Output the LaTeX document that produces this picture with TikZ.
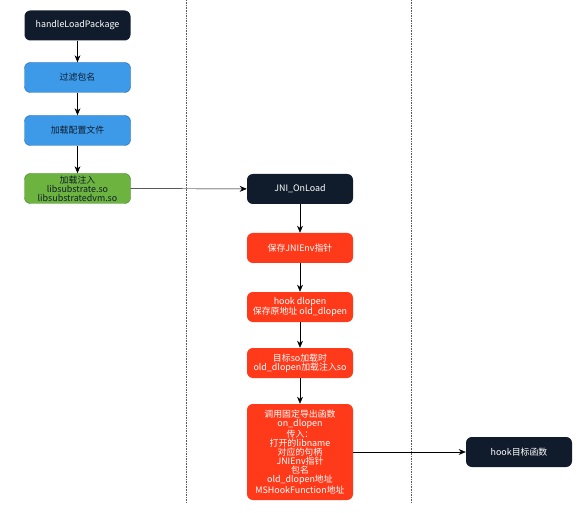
\documentclass[tikz,border=0pt]{standalone}
\usepackage{fontspec}
\setmainfont{Noto Sans CJK SC}
\usepackage{tikz}
\usetikzlibrary{positioning, arrows.meta}

\definecolor{navy}{HTML}{101C2C}
\definecolor{skyblue}{HTML}{3D9AE8}
\definecolor{skyedge}{HTML}{2A6CB0}
\definecolor{leaf}{HTML}{6CB43F}
\definecolor{leafedge}{HTML}{4A8A2A}
\definecolor{flame}{HTML}{FF3A1A}

\tikzset{
  box/.style={rounded corners=5pt, minimum width=106*0.03cm, minimum height=30*0.03cm,
    align=center, text=white, inner sep=1pt, font=\fontsize{7.6}{7.8}\selectfont},
  darkbox/.style={box, fill=navy},
  bluebox/.style={box, fill=skyblue, draw=skyedge, text=navy},
  greenbox/.style={box, fill=leaf, draw=leafedge, text=navy},
  redbox/.style={box, fill=flame},
  flow/.style={-{Stealth[length=6pt,width=5pt]}, thin}
}

\begin{document}
\begin{tikzpicture}[x=0.03cm, y=-0.03cm]
    \useasboundingbox (0,0) rectangle (588,513);

    % Draw lane separators
    \foreach \x in {186, 411} {
      \draw[densely dotted, gray!70!black] (\x,0) -- (\x,502);
    }

    % Left lane
    \node[darkbox] (handle) at (77.5,25.5) {handleLoadPackage};
    \node[bluebox] (filter) at (77.5,77.5) {过滤包名};
    \node[bluebox] (config) at (77.5,130.5) {加载配置文件};
    \node[greenbox] (inject) at (77.5,188.5) {加载注入\\libsubstrate.so\\libsubstratedvm.so};

    % Middle lane
    \node[darkbox] (jni) at (300,189) {JNI\_OnLoad};
    \node[redbox] (env) at (300,248) {保存JNIEnv指针};
    \node[redbox] (hookdl) at (300,307) {hook dlopen\\保存原地址 old\_dlopen};
    \node[redbox] (target) at (300,363) {目标so加载时\\old\_dlopen加载注入so};
    \node[redbox, minimum height=96*0.03cm] (call) at (300,452)
      {调用固定导出函数\\on\_dlopen\\传入：\\打开的libname\\对应的句柄\\JNIEnv指针\\包名\\old\_dlopen地址\\MSHookFunction地址};

    % Right lane
    \node[darkbox] (hookfn) at (519,452) {hook目标函数};

    % Draw connectors
    \foreach \a/\b in {handle/filter, filter/config, config/inject, jni/env, env/hookdl, hookdl/target, target/call} {
      \draw[flow] (\a) -- (\b);
    }
    \draw[flow] (inject) -- (jni);
    \draw[flow] (call) -- (hookfn);
  \end{tikzpicture}
\end{document}
